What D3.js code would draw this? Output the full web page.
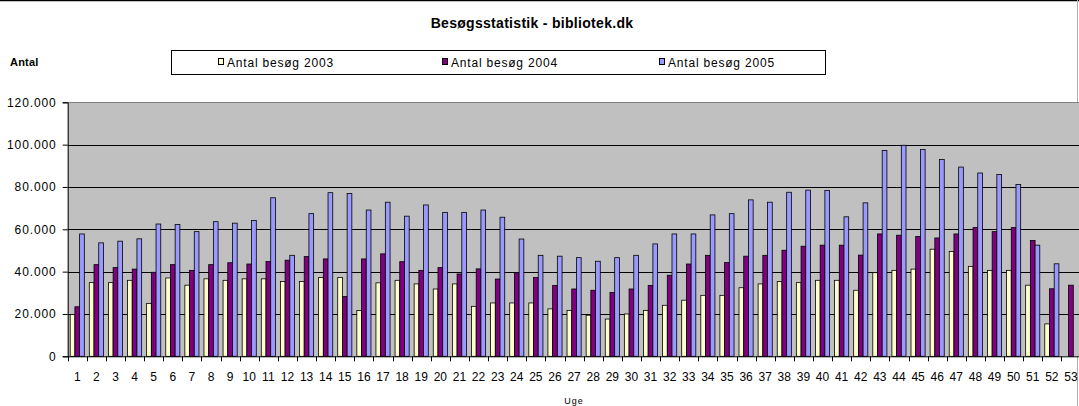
<!DOCTYPE html>
<html>
<head>
<meta charset="utf-8">
<script src="https://cdn.jsdelivr.net/npm/d3@7/dist/d3.min.js"></script>
<style>
    body { margin: 0; background: #fff; }
    svg { display: block; font-family: "Liberation Sans", Arial, sans-serif; }
</style>
</head>
<body>
<script>
//chart data
var weeks = d3.range(1, 54);
var seriesNames = ["Antal besøg 2003", "Antal besøg 2004", "Antal besøg 2005"];
var visits2003 = [19800, 34800, 34800, 35900, 25000, 37000, 33600, 36600, 35900, 36600,
    36600, 35300, 35300, 37200, 37200, 21600, 34700, 35900, 34200, 31800,
    34200, 23600, 25200, 25200, 25200, 22400, 21700, 19400, 17600, 20000,
    21700, 24100, 26500, 28800, 28800, 32400, 34200, 35300, 34800, 35900,
    35900, 31200, 39500, 40600, 41200, 50600, 49500, 42500, 40600, 40600,
    33600, 15300, null];
var visits2004 = [23400, 43300, 41900, 41200, 39700, 43300, 40600, 43300, 44200, 43600,
    44800, 45400, 47100, 46000, 28200, 46000, 48400, 44700, 40600, 41900,
    38900, 41300, 36500, 39500, 37200, 33500, 31800, 31200, 30100, 31800,
    33500, 38300, 43600, 47700, 44300, 47300, 47700, 50100, 52000, 52500,
    52500, 47800, 57800, 57200, 56600, 55900, 57800, 60800, 58900, 60800,
    54700, 31900, 33600];
var visits2005 = [57800, 53600, 54400, 55500, 62500, 62300, 58900, 63600, 62900, 64200,
    74900, 47700, 67400, 77300, 76900, 69100, 72800, 66200, 71500, 68000,
    68000, 69100, 65700, 55400, 47700, 47300, 46600, 44900, 46600, 47700,
    53100, 57800, 57800, 66800, 67400, 73900, 72800, 77500, 78500, 78400,
    65900, 72500, 97200, 99700, 97700, 93000, 89400, 86600, 85900, 81200,
    52500, 43700, null];
var yTicks = [0, 20000, 40000, 60000, 80000, 100000, 120000];
var seriesColors = ["#FFFFCC", "#800080", "#9999FF"];

window.onload = function(){
    setChart();
};

function setChart(){
    var width = 1079,
        height = 406;

    var svg = d3.select("body")
        .append("svg")
        .attr("width", width)
        .attr("height", height);

    //danish number format: 120.000
    var locale = d3.formatLocale({decimal: ",", thousands: ".", grouping: [3], currency: ["", " kr"]});
    var fmt = locale.format(",d");

    //plot frame
    var left = 67.7, right = 1080.5, top = 102.3, bottom = 356.3;

    var x0 = d3.scaleBand()
        .domain(weeks)
        .range([left, right]);

    var x1 = d3.scaleBand()
        .domain([0, 1, 2])
        .range([0, x0.bandwidth()])
        .paddingOuter(0.53);

    var y = d3.scaleLinear()
        .domain([0, 120000])
        .range([bottom, top]);

    //outer chart border
    svg.append("line")
        .attr("x1", 0).attr("x2", width)
        .attr("y1", 0.5).attr("y2", 0.5)
        .style("stroke", "#000")
        .style("stroke-width", 1.5);
    svg.append("line")
        .attr("x1", 1077.5).attr("x2", 1077.5)
        .attr("y1", 0).attr("y2", height)
        .style("stroke", "#b0b0b0");

    //title
    svg.append("text")
        .attr("x", 532)
        .attr("y", 28)
        .attr("text-anchor", "middle")
        .style("font-weight", "bold")
        .style("font-size", "14px")
        .style("letter-spacing", "0.3px")
        .text("Besøgsstatistik - bibliotek.dk");

    //y axis title
    svg.append("text")
        .attr("x", 10)
        .attr("y", 66)
        .style("font-weight", "bold")
        .style("font-size", "11px")
        .style("letter-spacing", "0.2px")
        .text("Antal");

    //legend
    var legend = svg.append("g");
    legend.append("rect")
        .attr("x", 171.5).attr("y", 50.5)
        .attr("width", 654).attr("height", 24)
        .style("fill", "#fff")
        .style("stroke", "#000");
    var legendX = [218, 442, 659];
    seriesNames.forEach(function(name, i){
        legend.append("rect")
            .attr("x", legendX[i] + 0.5).attr("y", 58.5)
            .attr("width", 5).attr("height", 6)
            .style("fill", seriesColors[i])
            .style("stroke", "#000");
        legend.append("text")
            .attr("x", legendX[i] + 9)
            .attr("y", 66.5)
            .style("font-size", "12px")
            .style("letter-spacing", "0.8px")
            .text(name);
    });

    //plot background
    svg.append("rect")
        .attr("x", left).attr("y", top)
        .attr("width", right - left).attr("height", bottom - top)
        .style("fill", "#c0c0c0");

    //gridlines
    svg.selectAll(".grid")
        .data(yTicks.slice(1))
        .enter()
        .append("line")
        .attr("class", "grid")
        .attr("x1", left).attr("x2", right)
        .attr("y1", function(d){ return Math.round(y(d)) + 0.5; })
        .attr("y2", function(d){ return Math.round(y(d)) + 0.5; })
        .style("stroke", function(d){ return d == 120000 ? "#808080" : "#000"; });

    //bars
    var allSeries = [visits2003, visits2004, visits2005];
    allSeries.forEach(function(values, s){
        svg.selectAll(".bars" + s)
            .data(weeks.map(function(w, i){ return {week: w, value: values[i]}; })
                .filter(function(d){ return d.value != null; }))
            .enter()
            .append("rect")
            .attr("class", "bars" + s)
            .attr("x", function(d){ return x0(d.week) + x1(s); })
            .attr("width", x1.bandwidth())
            .attr("y", function(d){ return y(d.value); })
            .attr("height", function(d){ return y(0) - y(d.value); })
            .style("fill", seriesColors[s])
            .style("stroke", "#000")
            .style("stroke-width", 0.8);
    });

    //y axis
    var yAxis = svg.append("g")
        .attr("transform", "translate(" + left + ",0)")
        .call(d3.axisLeft(y).tickValues(yTicks).tickFormat(fmt).tickSize(5).tickPadding(6));
    yAxis.select(".domain").style("stroke", "#000");
    yAxis.selectAll("text")
        .style("font-size", "12px")
        .style("letter-spacing", "0.9px")
        .style("font-family", "'Liberation Sans', Arial, sans-serif")
        .style("fill", "#000");

    //x axis, ticks between categories
    var xAxis = svg.append("g")
        .attr("transform", "translate(0," + bottom + ")");
    xAxis.append("line")
        .attr("x1", left).attr("x2", right)
        .attr("y1", 0.5).attr("y2", 0.5)
        .style("stroke", "#000");
    xAxis.selectAll(".xtick")
        .data(weeks)
        .enter()
        .append("line")
        .attr("class", "xtick")
        .attr("x1", function(d){ return Math.round(x0(d)) + 0.5; })
        .attr("x2", function(d){ return Math.round(x0(d)) + 0.5; })
        .attr("y1", 0).attr("y2", 5)
        .style("stroke", "#000");
    xAxis.selectAll(".xlabel")
        .data(weeks)
        .enter()
        .append("text")
        .attr("class", "xlabel")
        .attr("x", function(d){ return x0(d) + x0.bandwidth() / 2; })
        .attr("y", 25)
        .attr("text-anchor", "middle")
        .style("font-size", "12px")
        .text(function(d){ return d; });

    //x axis title
    svg.append("text")
        .attr("x", 574)
        .attr("y", 404)
        .attr("text-anchor", "middle")
        .style("font-size", "9px")
        .style("letter-spacing", "1px")
        .text("Uge");
}
</script>
</body>
</html>
